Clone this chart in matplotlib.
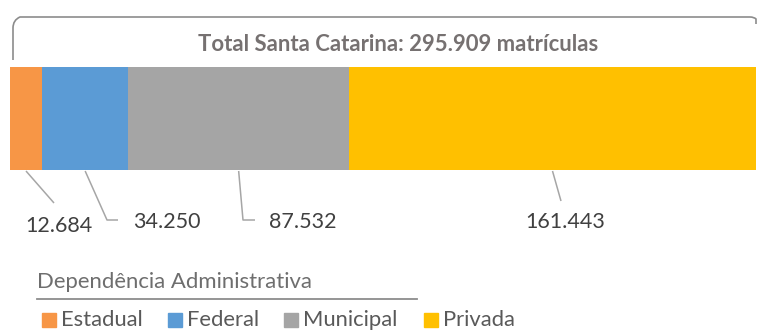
import matplotlib.pyplot as plt
from matplotlib.path import Path
from matplotlib.patches import PathPatch, Rectangle

plt.rcParams['font.family'] = ['Lato', 'DejaVu Sans']

categories = ["Estadual", "Federal", "Municipal", "Privada"]
matriculas = [12684, 34250, 87532, 161443]
colors = ["#F79646", "#5B9BD5", "#A5A5A5", "#FFC000"]
total = sum(matriculas)


def fmt(v):
    return f"{v:,}".replace(",", ".")


W, H = 757, 331
fig = plt.figure(figsize=(W / 100, H / 100), dpi=100)

# pixel-space overlay for the decorations
ov = fig.add_axes([0, 0, 1, 1])
ov.set_xlim(0, W)
ov.set_ylim(H, 0)
ov.axis("off")

# stacked horizontal bar
bar_left, bar_top, bar_w, bar_h = 10, 67, 746, 103
ax = fig.add_axes([bar_left / W, (H - bar_top - bar_h) / H, bar_w / W, bar_h / H])
ax.set_xlim(0, total)
ax.set_ylim(-0.5, 0.5)
ax.axis("off")

left = 0
mids = []
for cat, val, col in zip(categories, matriculas, colors):
    ax.barh(0, val, left=left, height=1.0, color=col, label=cat)
    mids.append(left + val / 2)
    left += val

# bracket above the bar
verts = [(13, 60), (13, 28), (13, 20), (20, 17), (750, 17), (754, 17), (756, 19), (756, 24)]
codes = [Path.MOVETO, Path.LINETO, Path.CURVE3, Path.CURVE3, Path.LINETO,
         Path.CURVE3, Path.CURVE3, Path.LINETO]
ov.add_patch(PathPatch(Path(verts, codes), fill=False, ec="#8C8C8C", lw=1.2))
ov.text(398.5, 51, f"Total Santa Catarina: {fmt(total)} matrículas", ha="center",
        va="baseline", fontsize=15.9, fontweight="bold", color="#767171")

# leader lines and value labels: (bend points in pixels, label baseline position)
leaders = [
    ([(54, 203)], (25, 232)),
    ([(107, 220), (118, 220)], (133, 228)),
    ([(243, 220), (255, 220)], (269, 228)),
    ([(561, 201)], (525, 228)),
]
for mid, val, (pts, (tx, ty)) in zip(mids, matriculas, leaders):
    x0, y0 = ax.transData.transform((mid, -0.5))
    x0, y0 = ov.transData.inverted().transform((x0, y0))
    xs = [x0] + [p[0] for p in pts]
    ys = [y0 + 1] + [p[1] for p in pts]
    ov.plot(xs, ys, color="#A6A6A6", lw=1.1, solid_capstyle="butt")
    ov.text(tx, ty, fmt(val), ha="left", va="baseline", fontsize=15.5, color="#404040")

# legend block
ov.text(37, 288, "Dependência Administrativa", ha="left", va="baseline",
        fontsize=15.9, color="#6E6E6E")
ov.plot([37, 417], [299, 299], color="#8C8C8C", lw=1.3)
legend_x = [42, 168, 284, 424]
for x, cat, col in zip(legend_x, categories, colors):
    ov.add_patch(Rectangle((x, 313), 14, 14, color=col))
    ov.text(x + 19, 326, cat, ha="left", va="baseline", fontsize=15.8, color="#595959")

fig.savefig("out.png", dpi=100)
